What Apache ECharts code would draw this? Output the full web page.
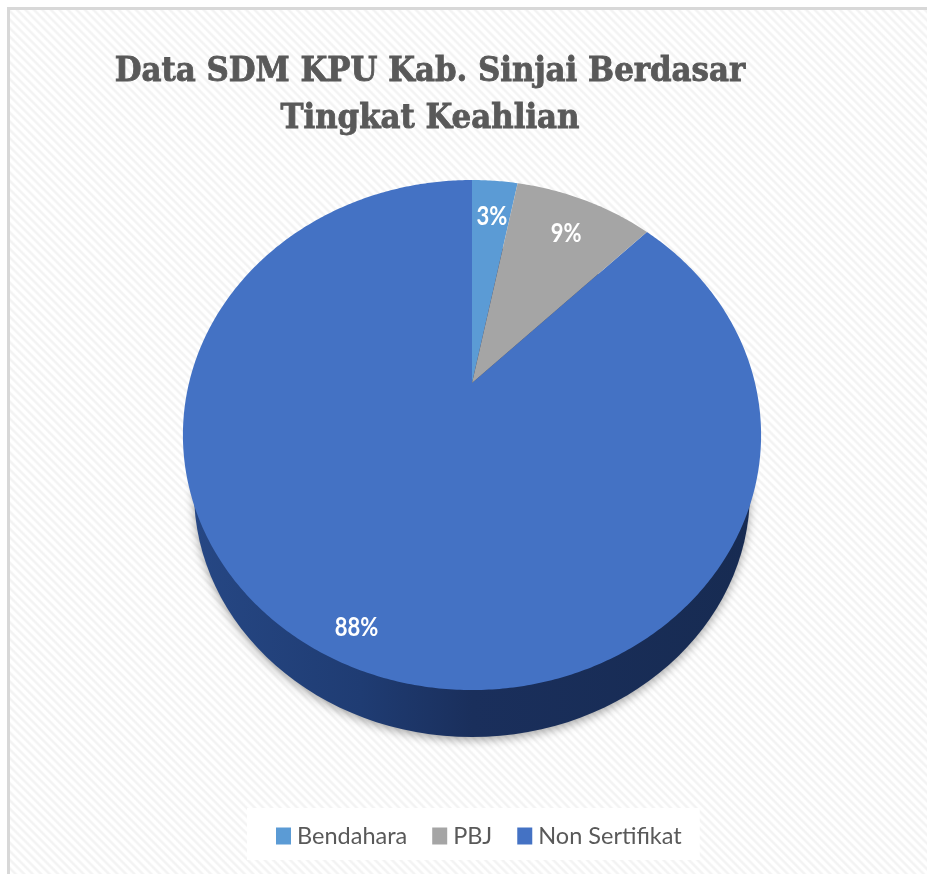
<!DOCTYPE html>
<html>
<head>
<meta charset="utf-8">
<title>Data SDM KPU Kab. Sinjai</title>
<script src="https://cdn.jsdelivr.net/npm/echarts@6/dist/echarts.min.js"></script>
<style>
	html, body { margin: 0; padding: 0; background: #fff; }
	#frame {
		position: absolute; left: 7px; top: 7px; width: 920px; height: 867px;
		box-sizing: border-box;
		border-left: 3px solid #d8d8d8; border-top: 3px solid #d8d8d8;
		background: repeating-linear-gradient(45deg, #ffffff 0, #ffffff 2px, #f3f3f3 3.5px, #f3f3f3 4.5px, #ffffff 6px);
	}
	#chart { position: absolute; left: 0; top: 0; width: 927px; height: 874px; }
</style>
</head>
<body>
<div id="frame"></div>
<div id="chart"></div>
<script>
const categories = ['Bendahara', 'PBJ', 'Non Sertifikat'];
const values = [3.1, 9.4, 87.5];
const percentLabels = ['3%', '9%', '88%'];
const colors = ['#5b9bd5', '#a5a5a5', '#4472c4'];

// the reference is a tilted 3D pie, so the disc is a circle seen in perspective
const apex = { x: 472, y: 383 };
const persp = { a: 244.4, b: -0.204, c: 283 };
const labelRadius = [0.8, 0.8, 0.895];
const rim = { cy: 492, rx: 278, ry: 245 };

const total = values.reduce((sum, v) => sum + v, 0);

const project = (angle, r) => {
	const u = Math.sin(angle) * r;
	const v = -Math.cos(angle) * r;
	const w = 1 + persp.b * v;
	return [apex.x + persp.c * u / w, apex.y + persp.a * v / w];
};

const renderSlice = (params, api) => {
	const i = params.seriesIndex;
	const before = values.slice(0, i).reduce((sum, v) => sum + v, 0);
	const start = before / total * Math.PI * 2;
	const end = (before + api.value(0)) / total * Math.PI * 2;

	const points = [[apex.x, apex.y]];
	const steps = Math.ceil((end - start) / 0.01);
	for (let s = 0; s <= steps; s++) {
		points.push(project(start + (end - start) * s / steps, 1));
	}

	const children = [];
	if (i === 2) {
		// side wall of the disc, only the big slice shows it
		children.push({
			type: 'ellipse',
			shape: { cx: apex.x, cy: rim.cy, rx: rim.rx, ry: rim.ry },
			style: {
				fill: new echarts.graphic.LinearGradient(0, 0, 1, 0, [
					{ offset: 0, color: '#264784' },
					{ offset: 0.3, color: '#1f3c73' },
					{ offset: 0.5, color: '#1a2f5c' },
					{ offset: 1, color: '#172b52' },
				]),
				shadowBlur: 10,
				shadowOffsetY: 3,
				shadowColor: 'rgba(0,0,0,0.35)',
			},
		});
	}
	children.push({
		type: 'polygon',
		shape: { points },
		style: { fill: api.visual('color') },
	});
	const mid = project((start + end) / 2, labelRadius[i]);
	children.push({
		type: 'text',
		z2: 10,
		x: mid[0] + 1,
		y: mid[1] + 1,
		scaleY: 1.2,
		style: {
			text: percentLabels[i],
			x: 0,
			y: 0,
			align: 'center',
			verticalAlign: 'middle',
			fill: '#fff',
			font: 'bold 22px Lato, sans-serif',
		},
	});
	return { type: 'group', children };
};

const chart = echarts.init(document.getElementById('chart'), null, { renderer: 'canvas' });
chart.setOption({
	animation: false,
	color: colors,
	title: {
		text: 'Data SDM KPU Kab. Sinjai Berdasar\nTingkat Keahlian',
		left: 425,
		top: 44,
		textAlign: 'center',
		textStyle: {
			fontFamily: '"DejaVu Serif Condensed", "DejaVu Serif", serif',
			fontWeight: 'bold',
			fontSize: 34.3,
			lineHeight: 47,
			color: '#595959',
			textBorderColor: '#595959',
			textBorderWidth: 0.8,
		},
	},
	legend: {
		data: categories,
		left: 247,
		top: 808,
		icon: 'rect',
		itemWidth: 15,
		itemHeight: 17,
		itemGap: 25,
		padding: [16, 18, 12, 29],
		backgroundColor: '#ffffff',
		selectedMode: false,
		textStyle: {
			fontFamily: 'Lato, sans-serif',
			fontSize: 23.5,
			color: '#595959',
			padding: [0, 0, 0, 1],
		},
	},
	series: categories.map((name, i) => ({
		type: 'custom',
		name,
		coordinateSystem: 'none',
		z: i === 2 ? 2 : 3,
		silent: true,
		renderItem: renderSlice,
		data: [[values[i]]],
	})),
});
</script>
</body>
</html>
